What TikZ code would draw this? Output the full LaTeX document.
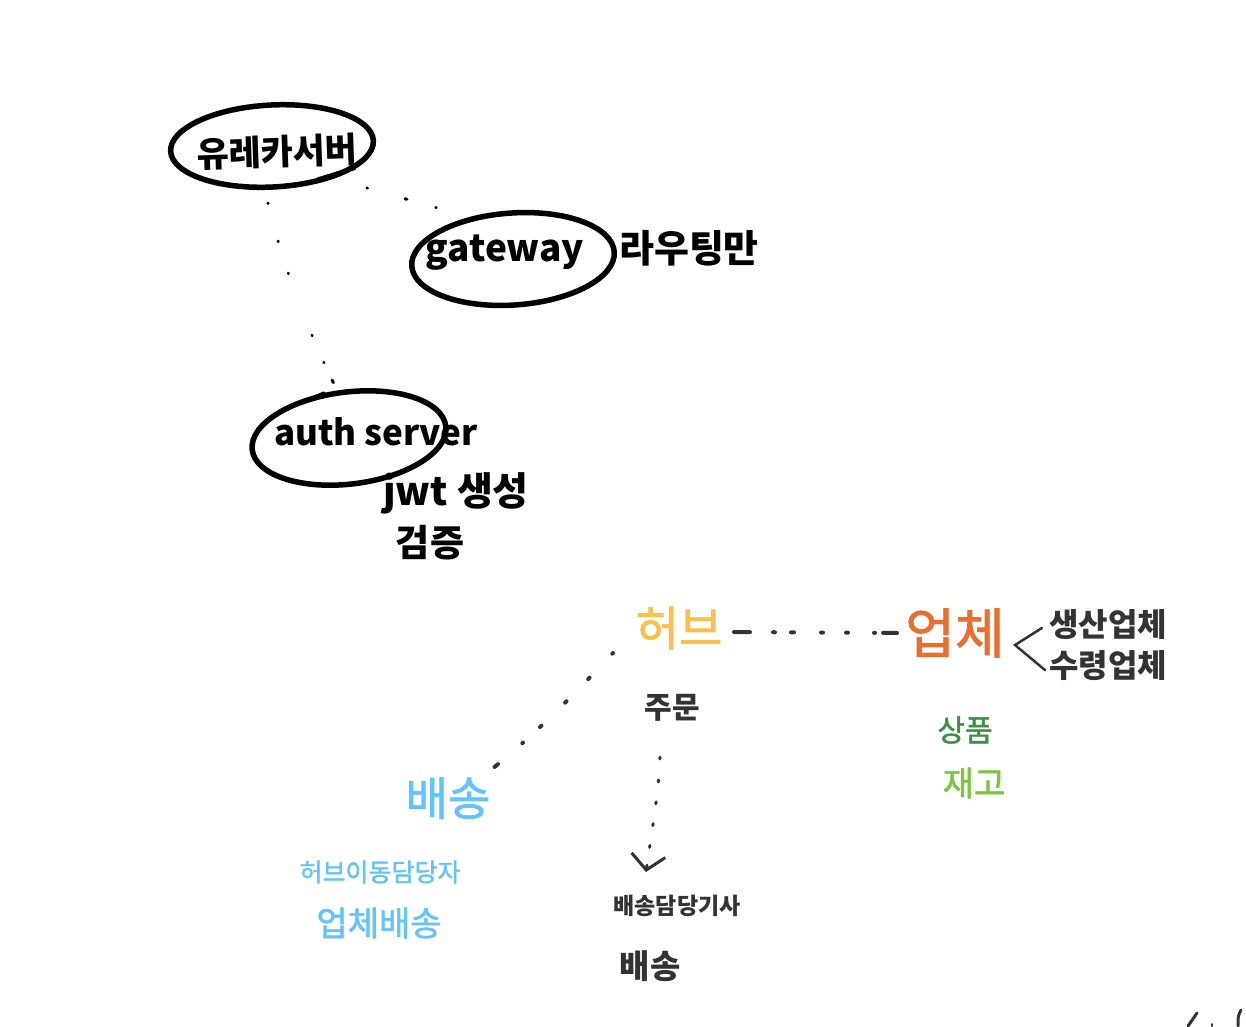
\documentclass[tikz,border=0pt]{standalone}
\usepackage{fontspec}
\usepackage{tikz}
\usetikzlibrary{arrows.meta,shapes.geometric}
\setmainfont{Noto Sans CJK KR}
\newfontfamily\softpen[FakeBold=1.6]{Noto Sans CJK KR}
\definecolor{inkblack}{HTML}{333333}
\definecolor{hubyellow}{HTML}{F9C04C}
\definecolor{vendororange}{HTML}{E86F2E}
\definecolor{goodsgreen}{HTML}{3B9144}
\definecolor{stocklime}{HTML}{7CC63D}
\definecolor{shipblue}{HTML}{62C4FB}
\tikzset{
  ring/.style={shape=ellipse,draw=black,line width=5.5pt,inner sep=0pt},
  bold/.style={font=\bfseries\fontsize{#1}{#1}\selectfont,inner sep=0pt},
  thin/.style={font=\softpen\fontsize{#1}{#1}\selectfont,inner sep=0pt},
  specks/.style={line width=3pt,line cap=round,black},
  marks/.style={line width=4pt,line cap=round,inkblack}
}
\begin{document}
\begin{tikzpicture}[x=1pt,y=-1pt,>={Straight Barb[length=15pt,width=34pt]}]
\useasboundingbox (0,0) rectangle (1246,1026);
% top group
\path (272,146) node (eureka) [ring,rotate=3,minimum width=203pt,minimum height=82pt] {};
\path (513,259) node (gateway) [ring,rotate=4,minimum width=203pt,minimum height=92pt] {};
\path (349,438) node (auth) [ring,rotate=7,minimum width=195pt,minimum height=92pt] {};
\path (277,152) node (eurekatext) [bold=35,text=black,rotate=2] {유레카서버};
\path (505,253) node (gatewaytext) [bold=37,text=black] {gateway};
\path (376,432) node (authtext) [bold=35,text=black] {auth server};
\path (689,248) node (routing) [bold=38,text=black] {라우팅만};
\path (456,493) node (jwt) [bold=39,text=black] {jwt 생성};
\path (430,543) node (verify) [bold=37,text=black] {검증};
% pen overlaps on the rings
\draw [black,line width=4pt,line cap=round] ([yshift=4pt]eureka.-42) -- +(36,-11);
\draw [black,line width=3pt,line cap=round] (auth.112) -- +(-38,16);

\draw [specks,dash pattern=on 0.5pt off 39pt on 0.5pt off 33pt on 0.5pt off 66pt on 0.5pt off 29pt on 0.5pt off 19pt on 3pt off 99pt]
  (268,203) .. controls (282,262) and (305,325) .. (auth.97);
\draw [specks,dash pattern=on 0.5pt off 39pt on 2pt off 30pt on 0.5pt off 99pt]
  (367,188) -- (gateway.132);

% bottom group
\path (679,628) node (hub) [thin=47,text=hubyellow] {허브};
\path (955,633) node (vendor) [thin=54,text=vendororange] {업체};
\path (1108,625) node (producer) [bold=32,text=inkblack] {생산업체};
\path (1108,666) node (receiver) [bold=32,text=inkblack] {수령업체};
\path (965,730) node (goods) [thin=30,text=goodsgreen] {상품};
\path (974,783) node (stock) [thin=34,text=stocklime] {재고};
\path (672,708) node (order) [bold=30,text=inkblack] {주문};
\path (448,798) node (delivery) [thin=46,text=shipblue] {배송};
\path (380,872) node (hubmover) [thin=25,text=shipblue] {허브이동담당자};
\path (379,923) node (vendorship) [thin=34,text=shipblue] {업체배송};
\path (677,906) node (driver) [bold=23,text=inkblack] {배송담당기사};
\path (650,966) node (shipping) [bold=33,text=inkblack] {배송};
\coordinate (forktip) at (1015,645);

\draw [marks,dash pattern=on 16pt off 23pt on 2pt off 16pt on 3pt off 27pt on 2pt off 23pt on 2pt off 26pt on 1pt off 8pt on 14pt off 50pt]
  (734,632) -- (vendor.west);
\draw [marks,dash pattern=on 1pt off 33pt on 2pt off 31pt on 2pt off 33pt on 2pt off 23pt on 1pt off 32pt on 18pt off 50pt]
  (613,653) .. controls (580,688) and (540,730) .. ([xshift=4pt,yshift=10pt]delivery.north east);
\draw [marks,line width=3pt,dash pattern=on 2pt off 21pt on 2pt off 20pt on 2pt off 20pt on 2pt off 20pt on 2pt off 18pt on 2pt off 99pt,->]
  (660,757) .. controls (659,790) and (652,830) .. (646,872);
\draw [inkblack,line width=2.5pt,line cap=round,line join=miter]
  ([xshift=-7pt,yshift=-3pt]producer.west) -- (forktip) -- ([xshift=-4pt,yshift=-4pt]receiver.west);

% cut off at the corner
\draw [marks,line width=3pt] (1197,1013) -- (1188,1026);
\draw [marks,line width=2pt] (1212,1024) -- (1212,1026);
\draw [marks,line width=3pt] (1241,1010) .. controls (1238,1016) .. (1238,1026);
\end{tikzpicture}
\end{document}
